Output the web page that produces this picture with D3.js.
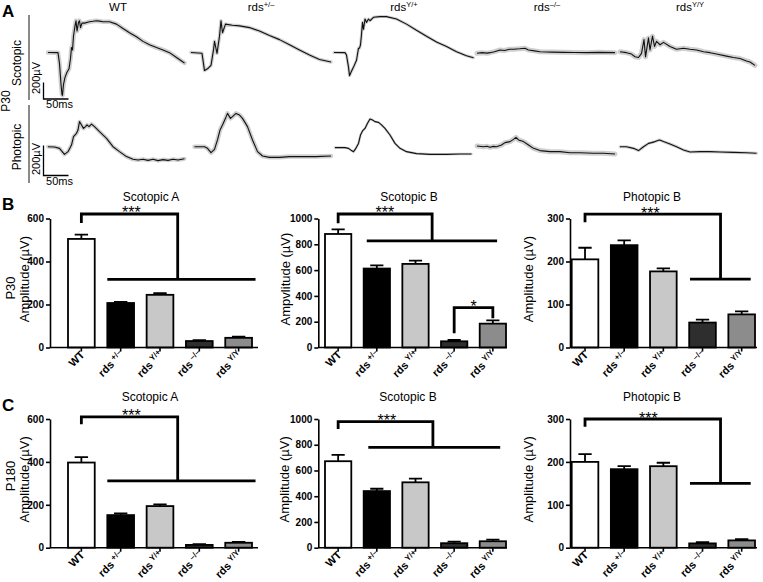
<!DOCTYPE html>
<html><head><meta charset="utf-8">
<script src="https://cdn.jsdelivr.net/npm/d3@7"></script>
<style>body{margin:0;background:#fff}svg{display:block}text{font-family:"Liberation Sans",Arial,sans-serif}</style>
</head><body><svg id="c" width="763" height="582"></svg>
<script>
// ---------- DATA ----------
const groups = ["WT", "rds+/-", "rdsY/+", "rds-/-", "rdsY/Y"];
const groupBase = ["WT", "rds", "rds", "rds", "rds"];
const groupSup = ["", "+/–", "Y/+", "–/–", "Y/Y"];

// P30 (mean, SEM) µV
const p30ScotA = [505, 207, 245, 30, 45];
const p30ScotAErr = [20, 5, 8, 4, 5];
const p30ScotB = [880, 612, 648, 48, 185];
const p30ScotBErr = [35, 25, 25, 10, 25];
const p30PhotB = [205, 238, 177, 58, 77];
const p30PhotBErr = [27, 11, 7, 7, 7];
// P180
const p180ScotA = [397, 152, 194, 13, 23];
const p180ScotAErr = [25, 8, 8, 4, 4];
const p180ScotB = [672, 440, 508, 35, 50];
const p180ScotBErr = [50, 18, 28, 12, 12];
const p180PhotB = [200, 183, 190, 10, 17];
const p180PhotBErr = [18, 7, 8, 3, 3];

const ticksA = [0, 200, 400, 600];
const ticksB = [0, 200, 400, 600, 800, 1000];
const ticksP = [0, 100, 200, 300];

// ERG traces [ms, µV], P30
const wtScot = [[0,0],[20,-2],[23,-135],[26,-385],[28,-510],[29,-519],[31,-385],[34,-302],[38,-240],[42,-198],[45,-73],[47,60],[49,30],[51,200],[54,323],[56,385],[58,260],[61,365],[63,385],[65,302],[68,356],[73,356],[83,373],[90,378],[97,385],[103,380],[110,373],[123,373],[137,344],[150,290],[163,240],[177,190],[190,135],[203,94],[217,60],[230,31],[243,-2],[257,-60],[270,-115],[273,-127]];
const hetScot = [[0,0],[22,-10],[27,-219],[33,-198],[40,-156],[45,31],[47,135],[52,-10],[57,198],[60,385],[63,240],[69,344],[83,331],[97,323],[117,302],[137,260],[157,206],[177,156],[197,94],[217,31],[237,-31],[257,-85],[280,-115]];
const ypScot = [[0,0],[22,-2],[25,-31],[29,-177],[31,-281],[34,-240],[39,-177],[45,-94],[49,52],[51,52],[53,94],[55,219],[57,365],[59,281],[62,406],[65,365],[69,406],[72,385],[79,427],[92,435],[105,435],[125,406],[145,344],[165,269],[185,198],[205,127],[225,73],[245,10],[265,-40],[279,-64]];
const koScot = [[0,-10],[10,-2],[20,-8],[26,-2],[35,10],[46,31],[55,25],[65,40],[73,40],[85,45],[96,52],[103,31],[115,20],[126,10],[150,5],[173,2],[195,0],[219,-2],[245,2],[276,-2]];
const yyScot = [[0,10],[13,-2],[23,-19],[30,-52],[37,-60],[43,-10],[48,156],[51,-52],[57,177],[60,31],[65,198],[69,73],[73,135],[80,94],[87,123],[100,73],[113,40],[127,52],[140,40],[153,31],[167,10],[180,-2],[193,-19],[213,-44],[227,-60],[240,-73],[253,-102],[260,-115],[270,-156]];
const wtPhot = [[0,2],[13,0],[23,-9],[33,-49],[40,-31],[47,13],[51,69],[57,91],[60,113],[63,169],[67,147],[71,124],[75,136],[78,147],[82,136],[87,153],[93,136],[103,102],[117,58],[130,2],[143,-31],[157,-64],[170,-82],[180,-87],[190,-82],[200,-89],[210,-82],[220,-91],[230,-84],[240,-89],[250,-82],[260,-87],[273,-78]];
const hetPhot = [[7,2],[27,2],[33,-9],[40,-38],[47,-16],[53,47],[58,113],[63,147],[69,191],[73,224],[79,191],[83,202],[90,224],[97,213],[103,191],[113,136],[123,47],[133,-31],[143,-60],[157,-69],[177,-69],[197,-64],[223,-64],[250,-64],[280,-60]];
const ypPhot = [[2,-4],[22,-4],[29,-9],[35,-24],[39,-31],[43,-13],[49,24],[53,80],[57,107],[62,124],[67,158],[72,187],[77,180],[82,169],[89,164],[95,147],[102,124],[112,80],[122,24],[132,-9],[145,-31],[165,-44],[192,-49],[225,-49],[252,-47],[275,-47]];
const koPhot = [[0,7],[13,2],[20,5],[26,-2],[33,4],[39,2],[49,13],[56,29],[66,36],[73,51],[78,64],[83,47],[93,36],[103,13],[113,-9],[126,-24],[146,-31],[166,-31],[186,-38],[206,-38],[233,-42],[253,-42],[276,-47]];
const yyPhot = [[0,2],[13,2],[27,-9],[37,-24],[47,2],[57,24],[63,29],[70,36],[79,47],[87,36],[100,20],[113,2],[127,-20],[140,-33],[160,-31],[180,-31],[200,-33],[227,-36],[253,-38],[273,-42]];

// ---------- DRAW ----------
const svg = d3.select("#c");
const FONT = '"Liberation Sans",Arial,sans-serif';
const fills = ["#ffffff", "#000000", "#c8c8c8", "#2e2e2e", "#8c8c8c"];

function label(g, x, y, txt, opts = {}) {
  return g.append("text").attr("x", x).attr("y", y).text(txt)
    .attr("font-size", opts.size || 12).attr("font-weight", opts.weight || "normal")
    .attr("text-anchor", opts.anchor || "middle").attr("fill", opts.fill || "#000")
    .attr("transform", opts.rot ? `rotate(${opts.rot},${x},${y})` : null);
}
function supLabel(sel, i, supSize, shift, gap) {
  sel.append("tspan").text(groupBase[i]);
  if (groupSup[i]) sel.append("tspan").text(groupSup[i]).attr("font-size", supSize).attr("dy", -shift).attr("dx", gap);
}

// Panel letters
label(svg, 2, 17, "A", {size: 17, weight: "bold", anchor: "start"});
label(svg, 2, 210, "B", {size: 17, weight: "bold", anchor: "start"});
label(svg, 2, 411, "C", {size: 17, weight: "bold", anchor: "start"});

// ---- Panel A ----
const colX = d3.scalePoint().domain(groups).range([48, 620]);
const tX = d3.scaleLinear().domain([0, 50]).range([0, 25]);
const yScot = d3.scaleLinear().domain([0, 200]).range([52.5, 36]);
const yPhot = d3.scaleLinear().domain([0, 200]).range([147, 117]);
const scotTraces = [wtScot, hetScot, ypScot, koScot, yyScot];
const photTraces = [wtPhot, hetPhot, ypPhot, koPhot, yyPhot];
const bandW = [4.5, 3.5, 3, 5, 5];
const bandWP = [4, 4.5, 2.5, 5, 3];

groups.forEach((gname, i) => {
  const x0 = colX(gname);
  const t = svg.append("text").attr("x", x0 + 70).attr("y", 11).attr("text-anchor", "middle").attr("font-size", 11.5);
  supLabel(t, i, 7.5, 4, 0);
  const lnS = d3.line().x(d => x0 + tX(d[0])).y(d => yScot(d[1]));
  const lnP = d3.line().x(d => x0 + tX(d[0])).y(d => yPhot(d[1]));
  [[scotTraces[i], lnS, bandW[i]], [photTraces[i], lnP, bandWP[i]]].forEach(([data, ln, bw]) => {
    svg.append("path").attr("d", ln(data)).attr("fill", "none").attr("stroke", "#cfcfcf")
      .attr("stroke-width", bw).attr("stroke-linejoin", "round").attr("stroke-linecap", "round");
    svg.append("path").attr("d", ln(data)).attr("fill", "none").attr("stroke", "#111")
      .attr("stroke-width", 1.1).attr("stroke-linejoin", "round");
  });
});

// left side grey bars and labels
svg.append("line").attr("x1", 29).attr("x2", 29).attr("y1", 15).attr("y2", 100).attr("stroke", "#8a8a8a").attr("stroke-width", 2);
svg.append("line").attr("x1", 29).attr("x2", 29).attr("y1", 105).attr("y2", 183).attr("stroke", "#8a8a8a").attr("stroke-width", 2);
label(svg, 21, 63, "Scotopic", {size: 12, rot: -90});
label(svg, 21, 147, "Photopic", {size: 12, rot: -90});
label(svg, 10, 101, "P30", {size: 12, rot: -90});

// scale bars
function scaleBar(yS, yBase, txtY, lblY) {
  const sx = 43.5;
  const top = yS(200) - yS(0) + yBase;
  svg.append("path").attr("d", `M${sx},${top}V${yBase}H${sx + tX(50) - tX(0)}`)
    .attr("fill", "none").attr("stroke", "#000").attr("stroke-width", 1.3);
  label(svg, 40, lblY, "200µV", {size: 11, rot: -90});
  label(svg, sx + 16, txtY, "50ms", {size: 11});
}
scaleBar(yScot, 99, 108, 78);
scaleBar(yPhot, 175.5, 184.5, 159);

// ---- Bar charts ----
function barChart(c) {
  const g = svg.append("g");
  const x = d3.scaleBand().domain(groups).range([c.bStart, c.bEnd]).paddingInner(0.32).paddingOuter(0);
  const bw = x.bandwidth();
  const y = d3.scaleLinear().domain([0, c.max]).range([c.y0, c.yTop]);
  const idxX = i => x(groups[0]) + bw / 2 + i * x.step();

  // bars
  g.selectAll(".bar").data(c.vals).join("rect")
    .attr("x", (d, i) => x(groups[i])).attr("y", d => y(d))
    .attr("width", bw).attr("height", d => c.y0 - y(d))
    .attr("fill", (d, i) => fills[i]).attr("stroke", "#000").attr("stroke-width", 1.8);
  // error bars
  const cw = bw * 0.5;
  c.vals.forEach((v, i) => {
    const cx = x(groups[i]) + bw / 2;
    g.append("path").attr("d", `M${cx},${y(v)}V${y(v + c.errs[i])}M${cx - cw / 2},${y(v + c.errs[i])}H${cx + cw / 2}`)
      .attr("stroke", "#000").attr("stroke-width", 1.8).attr("fill", "none");
  });
  // y axis
  const ya = g.append("g").attr("transform", `translate(${c.ax},0)`)
    .call(d3.axisLeft(y).tickValues(c.ticks).tickSize(4).tickSizeOuter(0).tickPadding(2).tickFormat(d3.format("d")));
  ya.select(".domain").attr("stroke-width", 1.6);
  ya.selectAll(".tick line").attr("stroke-width", 1.6);
  ya.selectAll("text").attr("font-family", FONT).attr("font-weight", "bold").attr("font-size", 10).attr("fill", "#000");
  // x axis
  g.append("line").attr("x1", c.ax).attr("x2", c.xEnd).attr("y1", c.y0).attr("y2", c.y0).attr("stroke", "#000").attr("stroke-width", 1.6);
  const xa = g.append("g").attr("transform", `translate(0,${c.y0})`)
    .call(d3.axisBottom(x).tickSize(4).tickSizeOuter(0).tickFormat(""));
  xa.select(".domain").remove();
  xa.selectAll(".tick line").attr("stroke-width", 1.6);
  groups.forEach((gn, i) => {
    const cx = x(gn) + bw / 2;
    const t = g.append("text").attr("font-size", 11).attr("font-weight", "bold").attr("text-anchor", "end")
      .attr("transform", `translate(${cx + 4},${c.y0 + 8}) rotate(-45)`);
    supLabel(t, i, 8, 4, 2.5);
  });
  // title and y label
  label(g, c.titleX, c.y0 - 147, c.title, {size: 12});
  label(g, c.ylabX, (c.y0 + c.yTop) / 2 - 4, c.ylab, {size: 13, rot: -90});
  // significance brackets
  const b = c.br;
  g.append("path").attr("d", `M${idxX(0)},${y(b.leg)}V${y(b.top)}H${idxX(b.drop)}V${y(b.line)}`)
    .attr("fill", "none").attr("stroke", "#000").attr("stroke-width", 2.8);
  g.append("line").attr("x1", idxX(b.from)).attr("x2", idxX(b.to)).attr("y1", y(b.line)).attr("y2", y(b.line))
    .attr("stroke", "#000").attr("stroke-width", 2.8);
  label(g, idxX(b.star), y(b.top) + 4.5, "***", {size: 16});
  if (c.br2) {
    const s = c.br2;
    g.append("path").attr("d", `M${idxX(3)},${y(s.legL)}V${y(s.top)}H${idxX(4)}V${y(s.legR)}`)
      .attr("fill", "none").attr("stroke", "#000").attr("stroke-width", 2.8);
    label(g, idxX(3.5), y(s.top) + 4.5, "*", {size: 16});
  }
}

const rowB = {y0: 347.5, yTop: 218.5};
const rowC = {y0: 547.7, yTop: 419};
const colA = {ax: 50, bStart: 68, bEnd: 252, xEnd: 258, ylabX: 29};
const colB = {ax: 318.3, bStart: 325, bEnd: 506, xEnd: 507, ylabX: 289.5};
const colP = {ax: 570, bStart: 571.7, bEnd: 755, xEnd: 757, ylabX: 533};

barChart({...rowB, ...colA, vals: p30ScotA, errs: p30ScotAErr, max: 600, ticks: ticksA, title: "Scotopic A", titleX: 151, ylab: "Amplitude (µV)",
  br: {leg: 579, top: 621, drop: 2.45, line: 317, from: 0.66, to: 4.43, star: 1.27}});
barChart({...rowB, ...colB, vals: p30ScotB, errs: p30ScotBErr, max: 1000, ticks: ticksB, title: "Scotopic B", titleX: 409, ylab: "Ampvlitude (µV)",
  br: {leg: 963, top: 1035, drop: 2.43, line: 826, from: 0.74, to: 4.11, star: 1.21},
  br2: {legL: 110, top: 309, legR: 226}});
barChart({...rowB, ...colP, vals: p30PhotB, errs: p30PhotBErr, max: 300, ticks: ticksP, title: "Photopic B", titleX: 652, ylab: "Amplitude (µV)",
  br: {leg: 291, top: 310, drop: 3.46, line: 159, from: 2.68, to: 4.23, star: 1.67}});

barChart({...rowC, ...colA, vals: p180ScotA, errs: p180ScotAErr, max: 600, ticks: ticksA, title: "Scotopic A", titleX: 150, ylab: "Amplitude (µV)",
  br: {leg: 575, top: 610, drop: 2.45, line: 312, from: 0.66, to: 4.43, star: 1.27}});
barChart({...rowC, ...colB, vals: p180ScotB, errs: p180ScotBErr, max: 1000, ticks: ticksB, title: "Scotopic B", titleX: 408, ylab: "Amplitude (µV)",
  br: {leg: 922, top: 979, drop: 2.45, line: 780, from: 0.78, to: 4.19, star: 1.26}});
barChart({...rowC, ...colP, vals: p180PhotB, errs: p180PhotBErr, max: 300, ticks: ticksP, title: "Photopic B", titleX: 652, ylab: "Amplitude (µV)",
  br: {leg: 282, top: 300, drop: 3.46, line: 150, from: 2.68, to: 4.23, star: 1.62}});

label(svg, 15, 288, "P30", {size: 13, rot: -90});
label(svg, 15, 476, "P180", {size: 13, rot: -90});
</script></body></html>
